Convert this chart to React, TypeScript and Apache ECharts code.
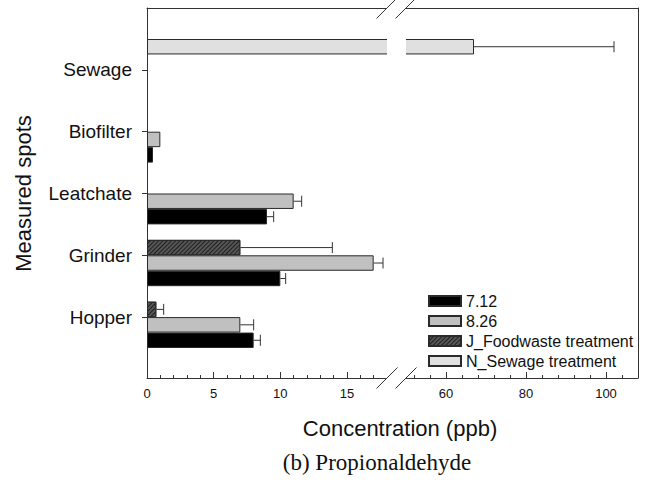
import React, { useEffect, useRef } from 'react';
import * as echarts from 'echarts';

const categories = ['Hopper', 'Grinder', 'Leatchate', 'Biofilter', 'Sewage'];
const seriesNames = ['7.12', '8.26', 'J_Foodwaste treatment', 'N_Sewage treatment'];

const values712 = [8.0, 10.0, 9.0, 0.45, null];
const errors712 = [0.5, 0.4, 0.5, null, null];
const values826 = [7.0, 17.0, 11.0, 1.0, null];
const errors826 = [1.0, 0.7, 0.6, null, null];
const valuesJ = [0.7, 7.0, null, null, null];
const errorsJ = [0.55, 6.9, null, null, null];
const valuesN = [null, null, null, null, 67];
const errorsN = [null, null, null, null, 35];

// axis segments (slightly overlapping the break, which is masked)
const leftRange = [0, 18.375];
const rightRange = [48.75, 108];
const leftMajorTicks = [0, 5, 10, 15];
const leftMinorTicks = [1, 2, 3, 4, 6, 7, 8, 9, 11, 12, 13, 14, 16, 17];
const rightMajorTicks = [60, 80, 100];
const rightMinorTicks = [52, 56, 64, 68, 72, 76, 84, 88, 92, 96, 104];

const fills = ['#000000', '#c0c0c0', '#575757', '#e0e0e0'];
const SANS = 'Liberation Sans, Arial, sans-serif';
const SERIF = 'Liberation Serif, Times New Roman, serif';
const LINE = '#333333';
const TEXT = '#111111';

// layout
const plotLeft = 147;
const plotRight = 638;
const frameTop = 8;
const frameBottom = 378;
const barTop = 39;
const barHeight = 309;
const breakLeft = 387;
const breakRight = 406;
const overlap = 5;

const valueSets = [values712, values826, valuesJ, valuesN];
const errorSets = [errors712, errors826, errorsJ, errorsN];

function barStyle(i: number) {
  const s: any = { color: fills[i], borderColor: '#2a2a2a', borderWidth: 1 };
  if (i === 2) {
    s.decal = {
      symbol: 'rect',
      symbolSize: 1,
      dashArrayX: [1, 0],
      dashArrayY: [1, 2],
      rotation: -Math.PI / 4,
      color: '#1e1e1e',
    };
  }
  return s;
}

function errorData(filter: (v: number) => boolean) {
  const out: number[][] = [];
  valueSets.forEach((vals, s) => {
    vals.forEach((v, c) => {
      const e = errorSets[s][c];
      if (v != null && e != null && filter(v)) out.push([v, c, e, s]);
    });
  });
  return out;
}

function bottomMajor(gridIndex: number, range: number[], ticks: number[]) {
  return {
    type: 'value', gridIndex, min: range[0], max: range[1], position: 'bottom', offset: frameBottom - (barTop + barHeight),
    axisLine: { show: true, onZero: false, lineStyle: { color: LINE, width: 1 } },
    axisTick: { show: true, inside: true, length: 6, customValues: ticks, lineStyle: { color: LINE } },
    axisLabel: { show: true, customValues: ticks, fontSize: 13, color: TEXT, fontFamily: SANS, margin: 9 },
    splitLine: { show: false },
  };
}
function bottomMinor(gridIndex: number, range: number[], ticks: number[]) {
  return {
    type: 'value', gridIndex, min: range[0], max: range[1], position: 'bottom', offset: frameBottom - (barTop + barHeight),
    axisLine: { show: false, onZero: false },
    axisTick: { show: true, inside: true, length: 3, customValues: ticks, lineStyle: { color: LINE } },
    axisLabel: { show: false },
    splitLine: { show: false },
  };
}
function topLine(gridIndex: number, range: number[]) {
  return {
    type: 'value', gridIndex, min: range[0], max: range[1], position: 'top', offset: barTop - frameTop,
    axisLine: { show: true, onZero: false, lineStyle: { color: LINE, width: 1 } },
    axisTick: { show: false },
    axisLabel: { show: false },
    splitLine: { show: false },
  };
}

function renderError(params: any, api: any) {
  const v = api.value(0);
  const c = api.value(1);
  const e = api.value(2);
  const s = api.value(3);
  const p0 = api.coord([v, c]);
  const p1 = api.coord([v + e, c]);
  const bw = api.size([0, 1])[1] / 4;
  const y = p0[1] + (1.5 - s) * bw;
  const cap = 5.5;
  const style = { stroke: LINE, lineWidth: 1 };
  return {
    type: 'group',
    children: [
      { type: 'line', shape: { x1: p0[0], y1: y, x2: p1[0], y2: y }, style },
      { type: 'line', shape: { x1: p1[0], y1: y - cap, x2: p1[0], y2: y + cap }, style },
    ],
  };
}

function slash(cx: number, cy: number) {
  return {
    type: 'line',
    shape: { x1: cx - 10.5, y1: cy + 10.5, x2: cx + 10.5, y2: cy - 10.5 },
    style: { stroke: LINE, lineWidth: 1 },
    z: 100,
  };
}

export default function App() {
  const ref = useRef<HTMLDivElement>(null);
  useEffect(() => {
    const chart = echarts.init(ref.current!, null, { renderer: 'svg' });
    const series: any[] = [];
    // bars are stacked top-to-bottom in series order, so add them in reverse
    const order = [3, 2, 1, 0];
    order.forEach((i) => {
      series.push({
        type: 'bar', name: seriesNames[i], xAxisIndex: 0, yAxisIndex: 0,
        data: valueSets[i].map((v) => (v == null ? '-' : v)),
        barGap: '0%', barCategoryGap: '0%', itemStyle: barStyle(i), clip: true,
      });
    });
    order.forEach((i) => {
      series.push({
        type: 'bar', name: seriesNames[i], xAxisIndex: 3, yAxisIndex: 1,
        data: valueSets[i].map((v) => (v == null || v <= rightRange[0] ? '-' : v)),
        barGap: '0%', barCategoryGap: '0%', itemStyle: barStyle(i), clip: true,
      });
    });
    series.push({
      type: 'custom', xAxisIndex: 0, yAxisIndex: 0, renderItem: renderError,
      dimensions: ['x', 'y', 'err', 'sid'], encode: { x: 0, y: 1 },
      data: errorData((v) => v < leftRange[1]), z: 5, silent: true,
    });
    series.push({
      type: 'custom', xAxisIndex: 3, yAxisIndex: 1, renderItem: renderError,
      dimensions: ['x', 'y', 'err', 'sid'], encode: { x: 0, y: 1 },
      data: errorData((v) => v > rightRange[0]), z: 5, silent: true,
    });

    const option: any = {
      animation: false,
      backgroundColor: '#ffffff',
      textStyle: { fontFamily: SANS },
      grid: [
        { left: plotLeft, top: barTop, width: breakLeft + overlap - plotLeft, height: barHeight },
        { left: breakRight - overlap, top: barTop, width: plotRight - breakRight + overlap, height: barHeight },
        { left: plotLeft, top: frameTop, width: plotRight - plotLeft, height: frameBottom - frameTop },
      ],
      xAxis: [
        bottomMajor(0, leftRange, leftMajorTicks),
        bottomMinor(0, leftRange, leftMinorTicks),
        topLine(0, leftRange),
        bottomMajor(1, rightRange, rightMajorTicks),
        bottomMinor(1, rightRange, rightMinorTicks),
        topLine(1, rightRange),
        { type: 'value', gridIndex: 2, show: false },
      ],
      yAxis: [
        {
          type: 'category', gridIndex: 0, data: categories,
          axisLine: { show: false },
          axisTick: { show: true, alignWithLabel: true, length: 5, lineStyle: { color: LINE } },
          axisLabel: { fontSize: 19, color: TEXT, fontFamily: SANS, margin: 15 },
          name: 'Measured spots', nameLocation: 'middle', nameRotate: 90, nameGap: 113,
          nameTextStyle: { fontSize: 22, color: TEXT, fontFamily: SANS },
        },
        { type: 'category', gridIndex: 1, data: categories, show: false },
        {
          type: 'value', gridIndex: 2, position: 'left',
          axisLine: { show: true, onZero: false, lineStyle: { color: LINE, width: 1 } },
          axisTick: { show: false }, axisLabel: { show: false }, splitLine: { show: false },
        },
        {
          type: 'value', gridIndex: 2, position: 'right',
          axisLine: { show: true, onZero: false, lineStyle: { color: LINE, width: 1 } },
          axisTick: { show: false }, axisLabel: { show: false }, splitLine: { show: false },
        },
      ],
      legend: {
        data: seriesNames,
        orient: 'vertical', left: 423, top: 288,
        itemWidth: 32, itemHeight: 10, itemGap: 4,
        icon: 'rect',
        textStyle: { fontSize: 16, color: TEXT, fontFamily: SANS },
        selectedMode: false,
      },
      series,
      graphic: [
        {
          type: 'rect', z: 50,
          shape: { x: breakLeft, y: 2, width: breakRight - breakLeft, height: frameBottom + 4 - 2 },
          style: { fill: '#ffffff' },
        },
        slash(breakLeft, frameTop),
        slash(breakRight, frameTop),
        slash(breakLeft, frameBottom),
        slash(breakRight, frameBottom),
        {
          type: 'text', x: 400, y: 428,
          style: { text: 'Concentration (ppb)', fontSize: 22, fontFamily: SANS, fill: TEXT, textAlign: 'center', textVerticalAlign: 'middle' },
        },
        {
          type: 'text', x: 377, y: 462,
          style: { text: '(b) Propionaldehyde', fontSize: 23, fontFamily: SERIF, fill: TEXT, textAlign: 'center', textVerticalAlign: 'middle' },
        },
      ],
    };
    chart.setOption(option);
    return () => chart.dispose();
  }, []);
  return <div ref={ref} style={{ position: 'fixed', left: 0, top: 0, width: 661, height: 482 }} />;
}
